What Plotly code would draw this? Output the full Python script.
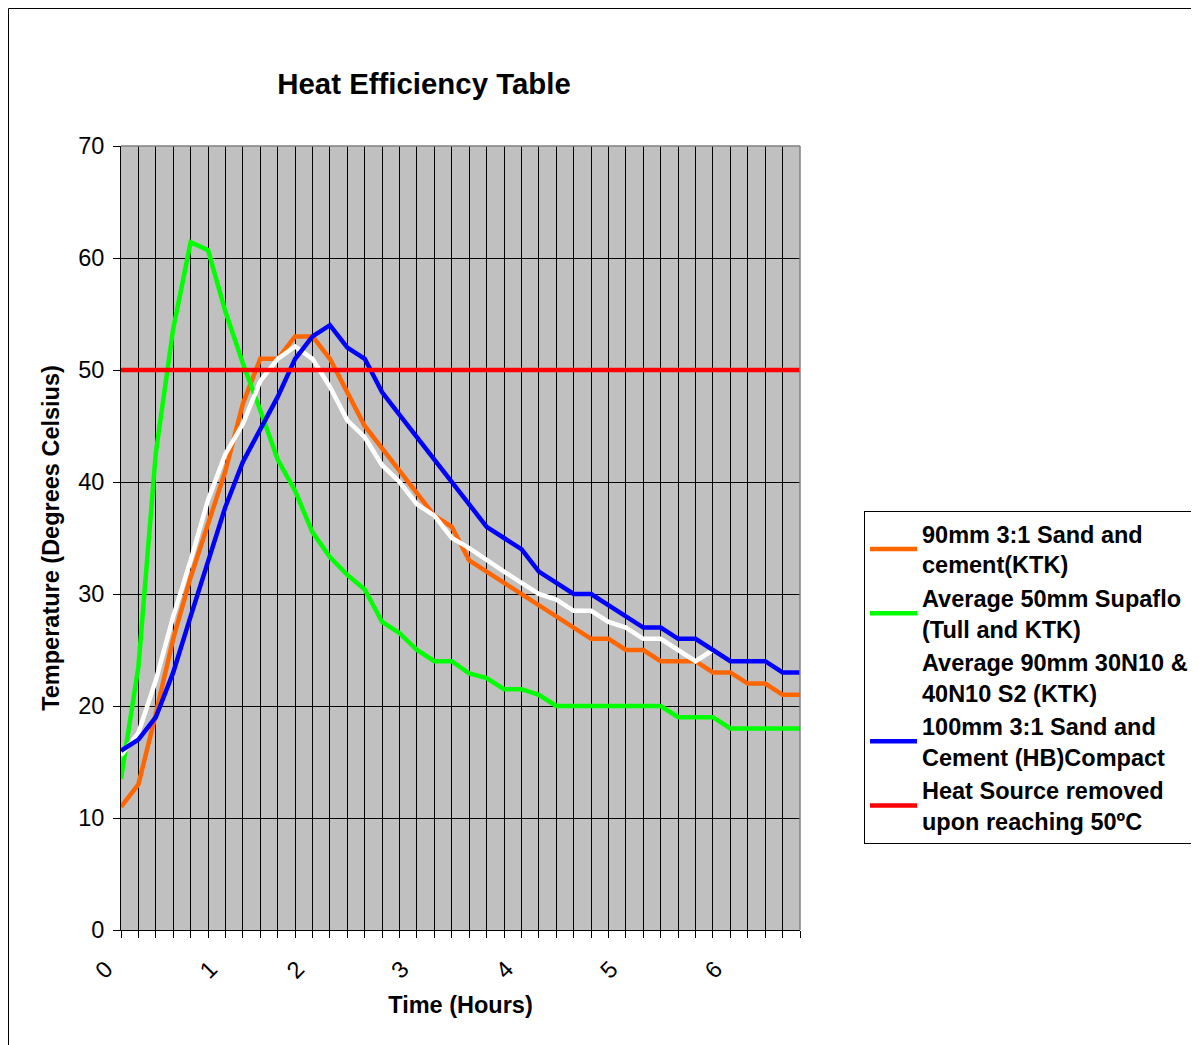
import plotly.graph_objects as go

# ---- data (10-minute samples, index 0..39) ----
sample_index = list(range(40))
hour_tick_index = [0, 6, 11, 17, 23, 29, 35]
hour_tick_labels = ["0", "1", "2", "3", "4", "5", "6"]

sand_cement_90 = [11, 13, 19.3, 26, 31.5, 36.3, 41, 47, 51, 51, 53, 53, 51, 48, 45, 43, 41, 39, 37, 36,
                  33, 32, 31, 30, 29, 28, 27, 26, 26, 25, 25, 24, 24, 24, 23, 23, 22, 22, 21, 21]
supaflo_50 = [13.5, 23.5, 42.6, 53.7, 61.4, 60.7, 55.2, 50.6, 46.4, 42.0, 39.2, 35.5, 33.3, 31.7, 30.4, 27.5,
              26.5, 25, 24, 24, 22.9, 22.5, 21.5, 21.5, 21, 20, 20, 20, 20, 20, 20, 20, 19, 19, 19, 18, 18, 18, 18, 18]
n10_90 = [15.6, 17.6, 22.3, 28, 33, 38.4, 42.5, 45.2, 49, 51, 52.1, 51, 48.5, 45.5, 44, 41.5, 40, 38, 37, 35,
          34.1, 33, 32, 31, 30, 29.5, 28.5, 28.5, 27.5, 27, 26, 26, 25, 24, 25, None, None, None, None, None]
sand_cement_100 = [16, 17, 19, 23, 28, 33, 37.8, 41.8, 44.7, 47.6, 51, 53, 54, 52, 51, 48, 46, 44, 42, 40,
                   38, 36, 35, 34, 32, 31, 30, 30, 29, 28, 27, 27, 26, 26, 25, 24, 24, 24, 23, 23]
heat_source_removed = [50, 50, 50, 50, 50, 50, 50, 50, 50, 50, 50, 50, 50, 50, 50, 50, 50, 50, 50, 50,
                       50, 50, 50, 50, 50, 50, 50, 50, 50, 50, 50, 50, 50, 50, 50, 50, 50, 50, 50, 50]

series = [
    ("90mm 3:1 Sand and<br>cement(KTK)", sand_cement_90, "#FF6600"),
    ("Average 50mm Supaflo<br>(Tull and KTK)", supaflo_50, "#00FF00"),
    ("Average 90mm 30N10 &<br>40N10 S2 (KTK)", n10_90, "#FFFFFF"),
    ("100mm 3:1 Sand and<br>Cement (HB)Compact", sand_cement_100, "#0000FF"),
    ("Heat Source removed<br>upon reaching 50ºC", heat_source_removed, "#FF0000"),
]

FONT = "Liberation Sans, Arial, sans-serif"

# page body has an 8px margin in the browser
W, H = 1191, 1037
L, T = 113, 138
PW, PH = 679, 784

fig = go.Figure()
for name, vals, col in series:
    fig.add_trace(go.Scatter(x=sample_index, y=vals, mode="lines",
                             name="<b>" + name.replace("<br>", "</b><br><b>") + "</b>",
                             line=dict(color=col, width=4.5), connectgaps=False))

fig.update_layout(
    width=W, height=H,
    margin=dict(l=L, r=W - L - PW, t=T, b=H - T - PH, autoexpand=False),
    paper_bgcolor="white", plot_bgcolor="#C0C0C0",
    font=dict(family=FONT, color="black", size=23.5),
    title=dict(text="<b>Heat Efficiency Table</b>", font=dict(size=29.4, family=FONT),
               x=(424 - 121) / PW, xref="paper", xanchor="center",
               y=1 - 76 / H, yref="container", yanchor="middle"),
    showlegend=True,
    legend=dict(x=(864 - 121) / PW, y=(930 - 511) / PH, xanchor="left", yanchor="top",
                bordercolor="black", borderwidth=1, bgcolor="white",
                font=dict(size=23.5, family=FONT, color="black"),
                itemwidth=47, tracegroupgap=0),
)

fig.update_xaxes(
    range=[0, 39], tickmode="array", tickvals=hour_tick_index, ticktext=hour_tick_labels,
    tickangle=-45, tickfont=dict(size=23.5), ticks="outside", ticklen=7, tickcolor="black",
    ticklabelshift=-15, ticklabelstandoff=8,
    showline=True, linecolor="black", linewidth=1, mirror=False,
    showgrid=True, gridcolor="black", gridwidth=1, zeroline=False,
    minor=dict(dtick=1, tick0=0, showgrid=True, gridcolor="black", gridwidth=1,
               ticks="outside", ticklen=7, tickcolor="black"),
    title=dict(text="<b>Time (Hours)</b>", font=dict(size=23.5), standoff=14),
)
fig.update_yaxes(
    range=[0, 70], dtick=10, tick0=0, ticks="outside", ticklen=7, tickcolor="black",
    tickfont=dict(size=23.5), ticklabelstandoff=4,
    showline=True, linecolor="black", linewidth=1, mirror=False,
    showgrid=True, gridcolor="black", gridwidth=1, zeroline=False,
    title=dict(text="<b>Temperature (Degrees Celsius)</b>", font=dict(size=23.5), standoff=11),
)

# plot-area frame (top/right) and outer chart frame
fig.add_shape(type="line", xref="paper", yref="paper", x0=0, x1=1, y0=1, y1=1,
              line=dict(color="#808080", width=1.5), layer="above")
fig.add_shape(type="line", xref="paper", yref="paper", x0=1, x1=1, y0=0, y1=1,
              line=dict(color="#808080", width=1.5), layer="above")
fig.add_shape(type="rect", xref="paper", yref="paper",
              x0=(0.5 - L) / PW, x1=1.7, y0=-0.2, y1=(T + PH - 0.5) / PH,
              line=dict(color="black", width=1), layer="below")

fig.write_html("out.html")
